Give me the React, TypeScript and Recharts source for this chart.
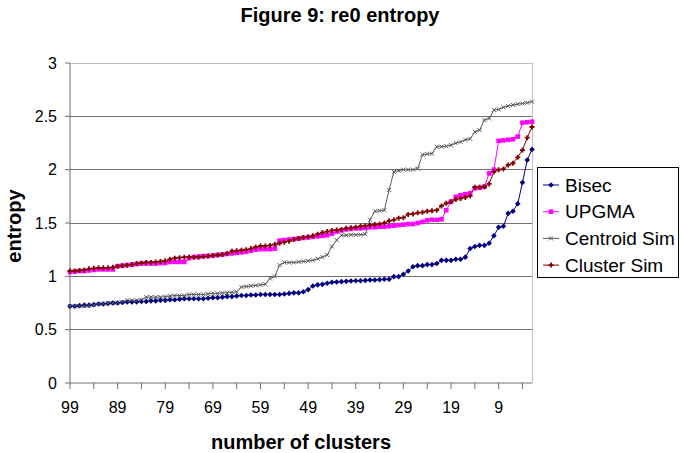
import React from "react";
import { LineChart, Line, XAxis, YAxis, ReferenceLine } from "recharts";

// number of clusters, left to right
const clusters = [
  99, 98, 97, 96, 95, 94, 93, 92, 91, 90, 89, 88, 87, 86, 85, 84, 83, 82, 81, 80,
  79, 78, 77, 76, 75, 74, 73, 72, 71, 70, 69, 68, 67, 66, 65, 64, 63, 62, 61, 60,
  59, 58, 57, 56, 55, 54, 53, 52, 51, 50, 49, 48, 47, 46, 45, 44, 43, 42, 41, 40,
  39, 38, 37, 36, 35, 34, 33, 32, 31, 30, 29, 28, 27, 26, 25, 24, 23, 22, 21, 20,
  19, 18, 17, 16, 15, 14, 13, 12, 11, 10, 9, 8, 7, 6, 5, 4, 3, 2,
];

const bisec = [
  0.72, 0.72, 0.725, 0.73, 0.73, 0.735, 0.74, 0.74, 0.745, 0.75,
  0.75, 0.755, 0.76, 0.76, 0.76, 0.765, 0.765, 0.77, 0.77, 0.775,
  0.775, 0.78, 0.78, 0.785, 0.79, 0.79, 0.79, 0.79, 0.79, 0.795,
  0.8, 0.8, 0.805, 0.81, 0.81, 0.815, 0.82, 0.82, 0.825, 0.825,
  0.83, 0.83, 0.83, 0.83, 0.83, 0.835, 0.84, 0.845, 0.845, 0.855,
  0.875, 0.91, 0.92, 0.925, 0.935, 0.944, 0.947, 0.95, 0.953, 0.956,
  0.959, 0.959, 0.962, 0.966, 0.966, 0.969, 0.972, 0.972, 0.997, 0.997,
  1.02, 1.05, 1.09, 1.1, 1.1, 1.11, 1.11, 1.12, 1.15, 1.15,
  1.15, 1.16, 1.16, 1.18, 1.26, 1.28, 1.29, 1.29, 1.31, 1.38,
  1.46, 1.47, 1.59, 1.61, 1.68, 1.88, 2.09, 2.19,
];

const upgma = [
  1.04, 1.045, 1.05, 1.05, 1.055, 1.06, 1.065, 1.065, 1.065, 1.065,
  1.095, 1.1, 1.105, 1.11, 1.115, 1.12, 1.12, 1.12, 1.12, 1.125,
  1.125, 1.135, 1.135, 1.135, 1.135, 1.17, 1.18, 1.185, 1.19, 1.19,
  1.195, 1.2, 1.205, 1.21, 1.215, 1.22, 1.225, 1.23, 1.24, 1.25,
  1.255, 1.255, 1.255, 1.26, 1.335, 1.34, 1.345, 1.35, 1.355, 1.36,
  1.365, 1.37, 1.375, 1.38, 1.385, 1.4, 1.42, 1.43, 1.44, 1.445,
  1.45, 1.45, 1.455, 1.46, 1.46, 1.465, 1.465, 1.47, 1.475, 1.48,
  1.485, 1.49, 1.49, 1.5, 1.51, 1.525, 1.53, 1.53, 1.535, 1.62,
  1.7, 1.745, 1.76, 1.77, 1.78, 1.825, 1.83, 1.84, 1.965, 2.0,
  2.27, 2.275, 2.28, 2.285, 2.31, 2.44, 2.445, 2.45,
];

const centroidSim = [
  0.72, 0.72, 0.72, 0.72, 0.725, 0.73, 0.74, 0.745, 0.75, 0.75,
  0.755, 0.76, 0.775, 0.775, 0.775, 0.78, 0.805, 0.805, 0.805, 0.805,
  0.81, 0.815, 0.82, 0.82, 0.82, 0.83, 0.83, 0.83, 0.83, 0.835,
  0.84, 0.84, 0.845, 0.845, 0.85, 0.855, 0.9, 0.905, 0.91, 0.915,
  0.92, 0.925, 0.98, 1.0, 1.105, 1.13, 1.13, 1.13, 1.135, 1.14,
  1.145, 1.15, 1.165, 1.18, 1.2, 1.28, 1.34, 1.385, 1.385, 1.39,
  1.39, 1.39, 1.395, 1.53, 1.61, 1.615, 1.62, 1.81, 1.98, 1.99,
  2.0, 2.0, 2.0, 2.01, 2.14, 2.147, 2.15, 2.215, 2.215, 2.22,
  2.23, 2.25, 2.26, 2.28, 2.29, 2.355, 2.37, 2.465, 2.48, 2.56,
  2.565, 2.585, 2.597, 2.606, 2.615, 2.62, 2.628, 2.637,
];

const clusterSim = [
  1.05, 1.05, 1.055, 1.06, 1.07, 1.075, 1.08, 1.08, 1.08, 1.085,
  1.095, 1.1, 1.105, 1.11, 1.12, 1.125, 1.13, 1.13, 1.135, 1.14,
  1.145, 1.16, 1.17, 1.175, 1.18, 1.18, 1.18, 1.18, 1.185, 1.19,
  1.195, 1.2, 1.205, 1.215, 1.235, 1.24, 1.245, 1.25, 1.26, 1.275,
  1.285, 1.285, 1.29, 1.3, 1.31, 1.32, 1.33, 1.345, 1.355, 1.365,
  1.37, 1.38, 1.395, 1.41, 1.42, 1.43, 1.435, 1.44, 1.45, 1.455,
  1.46, 1.47, 1.475, 1.48, 1.485, 1.49, 1.5, 1.52, 1.53, 1.545,
  1.55, 1.58, 1.585, 1.595, 1.6, 1.61, 1.615, 1.62, 1.66, 1.685,
  1.7, 1.72, 1.73, 1.74, 1.755, 1.835, 1.835, 1.84, 1.866, 1.98,
  2.0, 2.006, 2.044, 2.06, 2.116, 2.184, 2.3, 2.4,
];

const yTicks = [0, 0.5, 1, 1.5, 2, 2.5, 3];
const gridLines = [0.5, 1, 1.5, 2, 2.5];

const data = clusters.map((k, i) => ({
  k: String(k),
  bisec: bisec[i],
  upgma: upgma[i],
  centroid: centroidSim[i],
  cluster: clusterSim[i],
}));

const FONT = "'Liberation Sans', Arial, sans-serif";

type MarkerKind = "diamond" | "square" | "cross" | "plus";

const series: { key: string; name: string; color: string; marker: MarkerKind }[] = [
  { key: "bisec", name: "Bisec", color: "#000080", marker: "diamond" },
  { key: "upgma", name: "UPGMA", color: "#ff00ff", marker: "square" },
  { key: "centroid", name: "Centroid Sim", color: "#5a5a5a", marker: "cross" },
  { key: "cluster", name: "Cluster Sim", color: "#800000", marker: "plus" },
];

const Marker = ({ kind, cx, cy, color }: { kind: MarkerKind; cx: number; cy: number; color: string }) => {
  if (cx == null || cy == null) return <g />;
  if (kind === "diamond")
    return <path d={`M${cx},${cy - 2.8}L${cx + 2.8},${cy}L${cx},${cy + 2.8}L${cx - 2.8},${cy}Z`} fill={color} />;
  if (kind === "square") return <rect x={cx - 2.3} y={cy - 2.3} width={4.6} height={4.6} fill={color} />;
  if (kind === "cross")
    return (
      <path
        d={`M${cx - 2},${cy - 2}L${cx + 2},${cy + 2}M${cx - 2},${cy + 2}L${cx + 2},${cy - 2}`}
        stroke={color}
        strokeWidth={1}
      />
    );
  return (
    <path
      d={`M${cx - 2.5},${cy}L${cx + 2.5},${cy}M${cx},${cy - 2.5}L${cx},${cy + 2.5}`}
      stroke={color}
      strokeWidth={1.8}
    />
  );
};

// ticks every 5 clusters, labels every 10
const ClusterTick = (props: any) => {
  const { x, y, payload } = props;
  if ((99 - Number(payload.value)) % 10 !== 0) return <g />;
  return (
    <text x={x} y={y} dy={22} textAnchor="middle" fontSize={16} fill="#000" fontFamily={FONT}>
      {payload.value}
    </text>
  );
};

const App = () => {
  return (
    <div style={{ position: "absolute", left: 0, top: 0, width: 681, height: 453, background: "#fff" }}>
      <LineChart width={681} height={453} data={data} margin={{ top: 63, right: 149, bottom: 30, left: 10 }}>
        {gridLines.map((v) => (
          <ReferenceLine key={v} y={v} stroke="#707070" shapeRendering="crispEdges" />
        ))}
        <ReferenceLine y={3} stroke="#c0c0c0" shapeRendering="crispEdges" />
        <ReferenceLine x="2" stroke="#c0c0c0" shapeRendering="crispEdges" />
        <XAxis
          dataKey="k"
          interval={4}
          height={40}
          tickSize={6}
          tickMargin={2}
          axisLine={{ stroke: "#707070" }}
          tickLine={{ stroke: "#707070" }}
          tick={ClusterTick}
        />
        <YAxis
          domain={[0, 3]}
          ticks={yTicks}
          width={60}
          tickSize={5}
          tickMargin={8}
          axisLine={{ stroke: "#707070" }}
          tickLine={{ stroke: "#707070" }}
          tick={{ fontSize: 16, fill: "#000", fontFamily: FONT }}
        />
        {series.map((s) => (
          <Line
            key={s.key}
            dataKey={s.key}
            name={s.name}
            type="linear"
            stroke={s.color}
            strokeWidth={1}
            isAnimationActive={false}
            dot={(p: any) => (
              <Marker key={`${s.key}-${p.index}`} kind={s.marker} cx={p.cx} cy={p.cy} color={s.color} />
            )}
            activeDot={false}
          />
        ))}
      </LineChart>
      <svg
        width={681}
        height={453}
        style={{ position: "absolute", left: 0, top: 0, pointerEvents: "none" }}
        fontFamily={FONT}
      >
        <text x={340} y={22} textAnchor="middle" fontSize={20} fontWeight="bold" fill="#000">
          Figure 9: re0 entropy
        </text>
        <text x={301} y={449} textAnchor="middle" fontSize={20} fontWeight="bold" fill="#000">
          number of clusters
        </text>
        <text
          x={21}
          y={226}
          textAnchor="middle"
          fontSize={20}
          fontWeight="bold"
          fill="#000"
          transform="rotate(-90 21 226)"
        >
          entropy
        </text>
        <rect x={537.5} y={167.5} width={141} height={110} fill="#fff" stroke="#000" />
        {series.map((s, i) => {
          const cy = 185 + 26.7 * i;
          return (
            <g key={s.key}>
              <line x1={543} x2={559} y1={cy} y2={cy} stroke={s.color} strokeWidth={1} />
              <Marker kind={s.marker} cx={551} cy={cy} color={s.color} />
              <text x={565} y={cy + 6.7} fontSize={19} fill="#000">
                {s.name}
              </text>
            </g>
          );
        })}
      </svg>
    </div>
  );
};

export default App;
